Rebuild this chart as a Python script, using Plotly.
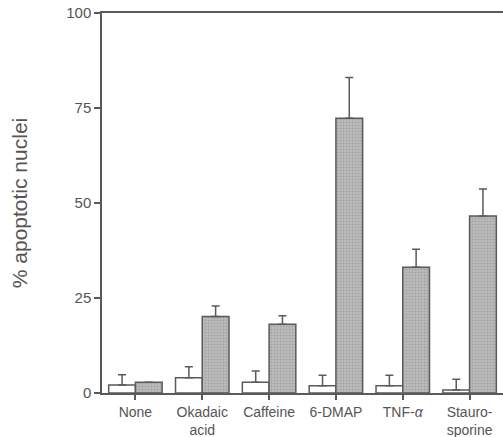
import plotly.graph_objects as go

categories = ["None", "Okadaic<br>acid", "Caffeine", "6-DMAP", "TNF-<i>α</i>", "Stauro-<br>sporine"]
control_vals = [2.1, 4.0, 2.8, 1.9, 1.9, 0.8]
control_err = [2.7, 2.9, 3.0, 2.8, 2.8, 2.8]
treated_vals = [2.8, 20.1, 18.1, 72.3, 33.1, 46.6]
treated_err = [0, 2.8, 2.2, 10.7, 4.7, 7.1]
y_ticks = [0, 25, 50, 75, 100]

line_col = "#5a5a5a"
text_col = "#555555"

fig = go.Figure()
fig.add_trace(go.Bar(
    x=categories, y=control_vals,
    marker=dict(color="white", line=dict(color=line_col, width=1.5)),
    error_y=dict(type="data", array=control_err, arrayminus=[0]*6, symmetric=False,
                 color=line_col, thickness=1.5, width=4),
    showlegend=False,
))
fig.add_trace(go.Bar(
    x=categories, y=treated_vals,
    marker=dict(color="#bdbdbd", line=dict(color=line_col, width=1.5),
                pattern=dict(shape=".", fgcolor="#858585", bgcolor="#bdbdbd", size=3, solidity=0.4)),
    error_y=dict(type="data", array=treated_err, arrayminus=[0]*6, symmetric=False,
                 color=line_col, thickness=1.5, width=4),
    showlegend=False,
))

fig.update_layout(
    width=503, height=437,
    margin=dict(l=102, r=0, t=13, b=44),
    barmode="group", bargap=0.2, bargroupgap=0,
    plot_bgcolor="white", paper_bgcolor="white",
    font=dict(family="Liberation Sans, Arial, sans-serif", color=text_col, size=14),
)
fig.update_xaxes(
    range=[-0.5, 5.5], showline=True, linecolor=line_col, linewidth=1.5, mirror=True,
    ticks="outside", ticklen=5, tickcolor=line_col, tickwidth=1.5,
    showgrid=False, tickfont=dict(size=14, color=text_col),
)
fig.update_yaxes(
    range=[0, 100], tickvals=y_ticks, showline=True, linecolor=line_col, linewidth=1.5,
    ticks="outside", ticklen=6, tickcolor=line_col, tickwidth=1.5, showgrid=False, zeroline=False,
    tickfont=dict(size=15, color=text_col),
    title=dict(text="% apoptotic nuclei", font=dict(size=21, color=text_col), standoff=33),
)

fig.write_html("out.html", config={"displayModeBar": False},
               post_script="document.body.style.margin='0';document.body.style.overflow='hidden';")
